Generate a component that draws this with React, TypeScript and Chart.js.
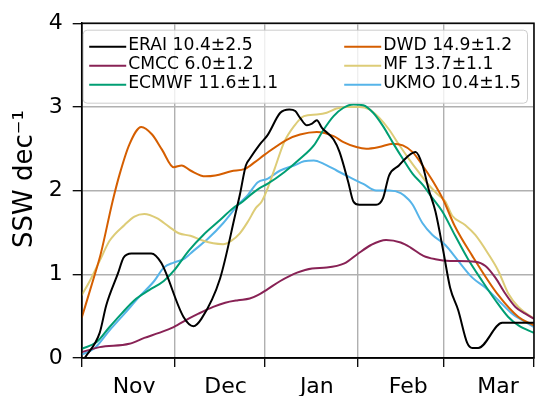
import { useEffect, useRef } from 'react';
import { Chart, registerables } from 'chart.js';

Chart.register(...registerables);

// x axis: days since start of November
const monthBoundaries = [0, 31, 61, 92, 121, 151];
const monthLabelDays = [17.5, 48, 78.5, 109, 139];
const monthLabels = ['Nov', 'Dec', 'Jan', 'Feb', 'Mar'];
const yTicks = [0, 1, 2, 3, 4];
const yTitle = 'SSW dec⁻¹';

const seriesLabels = [
  'ERAI 10.4±2.5',
  'CMCC 6.0±1.2',
  'ECMWF 11.6±1.1',
  'DWD 14.9±1.2',
  'MF 13.7±1.1',
  'UKMO 10.4±1.5',
];
const seriesColors = ['#000000', '#882255', '#009E73', '#D55E00', '#DDCC77', '#56B4E9'];

const eraiDays = [1, 6, 8.2, 12.1, 14, 16.6, 23.2, 26.5, 34, 37.3, 40, 46.2, 51.5, 52.8, 54.8, 56.1, 59.4, 62, 66.3, 69.3, 71.3, 72.9, 75.2, 76.9, 78.5, 80.2, 84.1, 86.1, 89, 90.7, 92.7, 98.3, 100.6, 102.6, 105.9, 109.2, 111.5, 113.8, 115.8, 118.1, 120.7, 123, 125.7, 128.7, 130.4, 132.4, 140.4, 151];
const eraiVals = [0, 0.3, 0.63, 1.01, 1.2, 1.25, 1.25, 1.14, 0.49, 0.38, 0.47, 0.95, 1.75, 1.95, 2.3, 2.38, 2.55, 2.66, 2.93, 2.97, 2.95, 2.87, 2.78, 2.8, 2.84, 2.75, 2.61, 2.46, 2.1, 1.87, 1.83, 1.83, 1.91, 2.18, 2.3, 2.42, 2.46, 2.3, 2.02, 1.75, 1.28, 0.84, 0.57, 0.18, 0.12, 0.12, 0.42, 0.42];

const cmccDays = [0, 6, 15.9, 20.9, 25.8, 30.7, 35.7, 39, 43.9, 47.9, 52.2, 56.1, 58.8, 62, 66.3, 71.9, 76.9, 81.8, 87.7, 92, 96.6, 101.6, 106.5, 109.8, 114.1, 118.1, 123, 131.4, 134.8, 138.1, 141.4, 144.8, 148.1, 151];
const cmccVals = [0.07, 0.13, 0.17, 0.24, 0.3, 0.37, 0.47, 0.53, 0.61, 0.66, 0.69, 0.71, 0.75, 0.82, 0.92, 1.02, 1.07, 1.08, 1.13, 1.24, 1.35, 1.41, 1.38, 1.32, 1.22, 1.18, 1.16, 1.15, 1.1, 0.96, 0.77, 0.61, 0.53, 0.47];

const ecmwfDays = [0, 5, 9.3, 13.3, 17.6, 22.5, 27.4, 30.7, 35.7, 40.6, 45.6, 50.5, 53.8, 57.1, 59.4, 62, 67.6, 72.9, 77.5, 80.8, 84.1, 87.4, 90.7, 94, 97.3, 100.6, 103.9, 107.2, 110.5, 113.8, 117.1, 120.4, 124.7, 129, 133.7, 138.1, 142.4, 145.8, 151];
const ecmwfVals = [0.11, 0.19, 0.37, 0.53, 0.69, 0.81, 0.92, 1.04, 1.28, 1.47, 1.63, 1.79, 1.87, 1.97, 2.03, 2.08, 2.22, 2.38, 2.54, 2.73, 2.89, 2.99, 3.03, 3.02, 2.93, 2.77, 2.57, 2.38, 2.2, 2.07, 1.91, 1.75, 1.46, 1.18, 0.92, 0.69, 0.49, 0.39, 0.3];

const dwdDays = [0, 4.4, 6.4, 10.3, 12.7, 15.9, 19.9, 23.5, 26.8, 30.7, 33.4, 36.3, 41.3, 44.6, 49.9, 54.5, 57.8, 61.1, 68.6, 72.9, 78.5, 84.1, 87.4, 91.7, 95, 99.3, 103.9, 107.2, 110.5, 113.8, 117.1, 120.7, 124.5, 130.4, 139.1, 145.8, 151];
const dwdVals = [0.48, 1.0, 1.25, 1.87, 2.2, 2.55, 2.76, 2.67, 2.49, 2.28, 2.3, 2.24, 2.17, 2.18, 2.23, 2.26, 2.34, 2.43, 2.61, 2.67, 2.7, 2.65, 2.58, 2.52, 2.5, 2.52, 2.56, 2.54, 2.46, 2.3, 2.12, 1.89, 1.58, 1.22, 0.75, 0.49, 0.39];

const mfDays = [0, 2.7, 6, 9.3, 14.3, 17.6, 20.9, 25.1, 29.1, 32.4, 36.3, 40.6, 43.9, 47.2, 49.9, 52.8, 55.5, 58.1, 60.1, 62, 64.4, 67.6, 70.9, 74.2, 78.5, 81.8, 85.1, 88.4, 92.7, 96, 99.3, 102.6, 105.9, 109.2, 112.5, 115.8, 119, 121.4, 123.7, 128, 131.4, 135.8, 139.1, 142.4, 145.8, 151];
const mfVals = [0.75, 0.92, 1.16, 1.4, 1.59, 1.69, 1.72, 1.67, 1.57, 1.49, 1.46, 1.4, 1.37, 1.36, 1.4, 1.49, 1.63, 1.79, 1.87, 2.02, 2.26, 2.58, 2.77, 2.89, 2.91, 2.93, 2.98, 3.0, 3.0, 2.97, 2.87, 2.73, 2.55, 2.38, 2.22, 2.07, 1.95, 1.87, 1.7, 1.59, 1.47, 1.24, 1.04, 0.77, 0.61, 0.47];

const ukmoDays = [0, 4.4, 9.3, 14.3, 19.2, 24.2, 27.4, 30.7, 34, 37.3, 42.3, 47.2, 52.2, 55.5, 58.8, 62, 66.3, 70.9, 74.2, 77.5, 80.8, 85.1, 89.4, 94, 98.3, 102.6, 106.5, 109.2, 110.5, 113.8, 117.1, 121.4, 125.7, 130.4, 134.8, 139.1, 143.7, 148.1, 151];
const ukmoVals = [0.04, 0.12, 0.33, 0.53, 0.73, 0.92, 1.08, 1.14, 1.18, 1.28, 1.43, 1.61, 1.83, 1.95, 2.1, 2.14, 2.24, 2.3, 2.35, 2.36, 2.32, 2.24, 2.16, 2.08, 2.0, 2.0, 1.97, 1.89, 1.83, 1.61, 1.47, 1.35, 1.16, 0.96, 0.84, 0.69, 0.53, 0.43, 0.37];

const seriesDays = [eraiDays, cmccDays, ecmwfDays, dwdDays, mfDays, ukmoDays];
const seriesVals = [eraiVals, cmccVals, ecmwfVals, dwdVals, mfVals, ukmoVals];

const FONT = "'DejaVu Sans', sans-serif";

const decorPlugin = {
  id: 'decor',
  afterDatasetsDraw(chart: any) {
    const { ctx, chartArea } = chart;
    const x0 = chartArea.left + 1.5;
    const y0 = chartArea.top + 7;
    const w = chartArea.right - chartArea.left - 8;
    const h = 73;
    ctx.save();
    ctx.beginPath();
    ctx.roundRect(x0, y0, w, h, 4);
    ctx.fillStyle = 'rgba(255,255,255,0.8)';
    ctx.fill();
    ctx.strokeStyle = '#cccccc';
    ctx.lineWidth = 1;
    ctx.stroke();
    ctx.font = `17.2px ${FONT}`;
    ctx.textBaseline = 'middle';
    ctx.textAlign = 'left';
    chart.data.datasets.forEach((ds: any, i: number) => {
      const col = Math.floor(i / 3);
      const row = i % 3;
      const lx = x0 + 6 + col * 255;
      const ly = y0 + 16.5 + row * 19;
      ctx.beginPath();
      ctx.moveTo(lx, ly);
      ctx.lineTo(lx + 37, ly);
      ctx.strokeStyle = ds.borderColor;
      ctx.lineWidth = 2;
      ctx.stroke();
      ctx.fillStyle = '#000';
      ctx.fillText(ds.label, lx + 39, ly - 1);
    });
    // frame (top/right spines)
    ctx.strokeStyle = '#000';
    ctx.lineWidth = 1.5;
    ctx.strokeRect(chartArea.left, chartArea.top, chartArea.right - chartArea.left, chartArea.bottom - chartArea.top);
    // y axis title
    ctx.translate(25, 179);
    ctx.rotate(-Math.PI / 2);
    ctx.font = `26px ${FONT}`;
    ctx.textAlign = 'center';
    ctx.textBaseline = 'middle';
    ctx.fillStyle = '#000';
    ctx.fillText(yTitle, 0, 0);
    ctx.restore();
  },
};

export default function App() {
  const ref = useRef<HTMLCanvasElement | null>(null);
  useEffect(() => {
    if (!ref.current) return;
    const isLabelTick = (v: number) => monthLabelDays.includes(v);
    const chart = new Chart(ref.current, {
      type: 'line',
      data: {
        datasets: seriesLabels.map((label, i) => ({
          label,
          data: seriesDays[i].map((d, j) => ({ x: d, y: seriesVals[i][j] })),
          borderColor: seriesColors[i],
          backgroundColor: seriesColors[i],
          borderWidth: 2,
          pointRadius: 0,
          cubicInterpolationMode: 'monotone' as const,
          fill: false,
        })),
      },
      options: {
        responsive: false,
        animation: false,
        devicePixelRatio: 1,
        layout: { padding: { top: 20, right: 2, left: 0, bottom: 0 } },
        plugins: { legend: { display: false }, tooltip: { enabled: false } },
        scales: {
          x: {
            type: 'linear',
            min: monthBoundaries[0],
            max: monthBoundaries[monthBoundaries.length - 1],
            afterBuildTicks: (scale: any) => {
              const vals = [...monthBoundaries, ...monthLabelDays].sort((a, b) => a - b);
              scale.ticks = vals.map((v) => ({ value: v }));
            },
            afterFit: (scale: any) => {
              scale.height = 38;
            },
            ticks: {
              autoSkip: false,
              maxRotation: 0,
              padding: 7,
              color: '#000',
              font: { family: FONT, size: 22 },
              callback: (v: any) => {
                const k = monthLabelDays.indexOf(Number(v));
                return k >= 0 ? monthLabels[k] : '';
              },
            },
            grid: {
              color: (c: any) => (c.tick && isLabelTick(c.tick.value) ? 'rgba(0,0,0,0)' : '#b0b0b0'),
              tickColor: (c: any) => (c.tick && isLabelTick(c.tick.value) ? 'rgba(0,0,0,0)' : '#000'),
              lineWidth: 1.4,
              tickLength: 9,
              tickWidth: 1.3,
            },
            border: { display: true, color: '#000', width: 1.5 },
          },
          y: {
            type: 'linear',
            min: yTicks[0],
            max: yTicks[yTicks.length - 1],
            afterBuildTicks: (scale: any) => {
              scale.ticks = yTicks.map((v) => ({ value: v }));
            },
            afterFit: (scale: any) => {
              scale.width = 81.7;
            },
            ticks: {
              padding: 10,
              color: '#000',
              font: { family: FONT, size: 22 },
            },
            grid: {
              color: '#b0b0b0',
              lineWidth: 1.4,
              tickColor: '#000',
              tickLength: 9,
              tickWidth: 1.3,
            },
            border: { display: true, color: '#000', width: 1.5 },
          },
        },
      },
      plugins: [decorPlugin],
    });
    return () => chart.destroy();
  }, []);
  return (
    <div style={{ position: 'absolute', left: 0, top: 0, width: 541, height: 396 }}>
      <canvas ref={ref} width={541} height={396} style={{ display: 'block' }} />
    </div>
  );
}
